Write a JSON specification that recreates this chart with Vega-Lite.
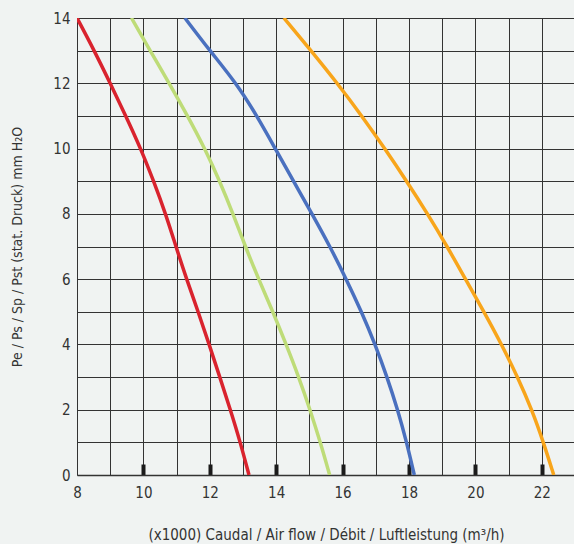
{
  "$schema": "https://vega.github.io/schema/vega-lite/v6.json",
  "autosize": {"type": "none"},
  "padding": {"left": 77, "top": 18, "right": 0, "bottom": 69},
  "width": 498,
  "height": 457,
  "background": "#f0f3f2",
  "config": {
    "view": {"stroke": null},
    "font": "Liberation Sans Narrow, DejaVu Sans Condensed, Roboto, sans-serif"
  },
  "data": {
    "values": [
      {"s": "A", "x": 8.0, "y": 14}, {"s": "A", "x": 8.52, "y": 13}, {"s": "A", "x": 9.0, "y": 12}, {"s": "A", "x": 9.47, "y": 11}, {"s": "A", "x": 9.92, "y": 10}, {"s": "A", "x": 10.31, "y": 9}, {"s": "A", "x": 10.67, "y": 8}, {"s": "A", "x": 10.98, "y": 7}, {"s": "A", "x": 11.3, "y": 6}, {"s": "A", "x": 11.65, "y": 5}, {"s": "A", "x": 11.98, "y": 4}, {"s": "A", "x": 12.3, "y": 3}, {"s": "A", "x": 12.62, "y": 2}, {"s": "A", "x": 12.92, "y": 1}, {"s": "A", "x": 13.18, "y": 0},
      {"s": "B", "x": 9.64, "y": 14}, {"s": "B", "x": 10.2, "y": 13}, {"s": "B", "x": 10.78, "y": 12}, {"s": "B", "x": 11.33, "y": 11}, {"s": "B", "x": 11.85, "y": 10}, {"s": "B", "x": 12.3, "y": 9}, {"s": "B", "x": 12.7, "y": 8}, {"s": "B", "x": 13.07, "y": 7}, {"s": "B", "x": 13.47, "y": 6}, {"s": "B", "x": 13.9, "y": 5}, {"s": "B", "x": 14.3, "y": 4}, {"s": "B", "x": 14.68, "y": 3}, {"s": "B", "x": 15.02, "y": 2}, {"s": "B", "x": 15.33, "y": 1}, {"s": "B", "x": 15.61, "y": 0},
      {"s": "C", "x": 11.25, "y": 14}, {"s": "C", "x": 12.0, "y": 13}, {"s": "C", "x": 12.8, "y": 12}, {"s": "C", "x": 13.42, "y": 11}, {"s": "C", "x": 13.97, "y": 10}, {"s": "C", "x": 14.52, "y": 9}, {"s": "C", "x": 15.08, "y": 8}, {"s": "C", "x": 15.62, "y": 7}, {"s": "C", "x": 16.11, "y": 6}, {"s": "C", "x": 16.57, "y": 5}, {"s": "C", "x": 16.98, "y": 4}, {"s": "C", "x": 17.34, "y": 3}, {"s": "C", "x": 17.66, "y": 2}, {"s": "C", "x": 17.93, "y": 1}, {"s": "C", "x": 18.16, "y": 0},
      {"s": "D", "x": 14.23, "y": 14}, {"s": "D", "x": 15.05, "y": 13}, {"s": "D", "x": 15.84, "y": 12}, {"s": "D", "x": 16.58, "y": 11}, {"s": "D", "x": 17.27, "y": 10}, {"s": "D", "x": 17.93, "y": 9}, {"s": "D", "x": 18.56, "y": 8}, {"s": "D", "x": 19.15, "y": 7}, {"s": "D", "x": 19.7, "y": 6}, {"s": "D", "x": 20.26, "y": 5}, {"s": "D", "x": 20.79, "y": 4}, {"s": "D", "x": 21.27, "y": 3}, {"s": "D", "x": 21.7, "y": 2}, {"s": "D", "x": 22.05, "y": 1}, {"s": "D", "x": 22.36, "y": 0}
    ]
  },
  "mark": {"type": "line", "interpolate": "basis", "strokeWidth": 3.5, "clip": true},
  "encoding": {
    "x": {
      "field": "x", "type": "quantitative",
      "scale": {"domain": [8, 23], "nice": false, "zero": false},
      "axis": {
        "values": [8, 9, 10, 11, 12, 13, 14, 15, 16, 17, 18, 19, 20, 21, 22],
        "labelExpr": "datum.value % 2 == 0 ? datum.label : ''",
        "grid": true, "gridColor": "#333333", "gridWidth": 1, "gridOpacity": 1,
        "domain": true, "domainColor": "#333333", "domainWidth": 1.5,
        "tickSize": -11, "tickWidth": 4, "tickColor": "#1a1a1a",
        "tickOpacity": {"condition": {"test": "datum.value % 2 == 0 && datum.value > 8", "value": 1}, "value": 0},
        "labelPadding": 21, "labelFontSize": 15, "labelColor": "#333333", "labelFlush": false,
        "title": "(x1000) Caudal / Air flow / Débit / Luftleistung (m³/h)",
        "titleFontSize": 15, "titleFontWeight": "normal", "titleColor": "#333333", "titlePadding": 27
      }
    },
    "y": {
      "field": "y", "type": "quantitative",
      "scale": {"domain": [0, 14], "nice": false},
      "axis": {
        "values": [0, 1, 2, 3, 4, 5, 6, 7, 8, 9, 10, 11, 12, 13, 14],
        "labelExpr": "datum.value % 2 == 0 ? datum.label : ''",
        "grid": true, "gridColor": "#333333", "gridWidth": 1, "gridOpacity": 1,
        "domain": false, "ticks": false,
        "labelPadding": 7, "labelFontSize": 15, "labelColor": "#333333",
        "title": "Pe / Ps / Sp / Pst (stat. Druck) mm H₂O",
        "titleFontSize": 14, "titleFontWeight": "normal", "titleColor": "#333333", "titlePadding": 28
      }
    },
    "color": {
      "field": "s", "type": "nominal",
      "scale": {"domain": ["A", "B", "C", "D"], "range": ["#d9232e", "#bedc78", "#4a70bf", "#f8a51b"]},
      "legend": null
    }
  }
}
